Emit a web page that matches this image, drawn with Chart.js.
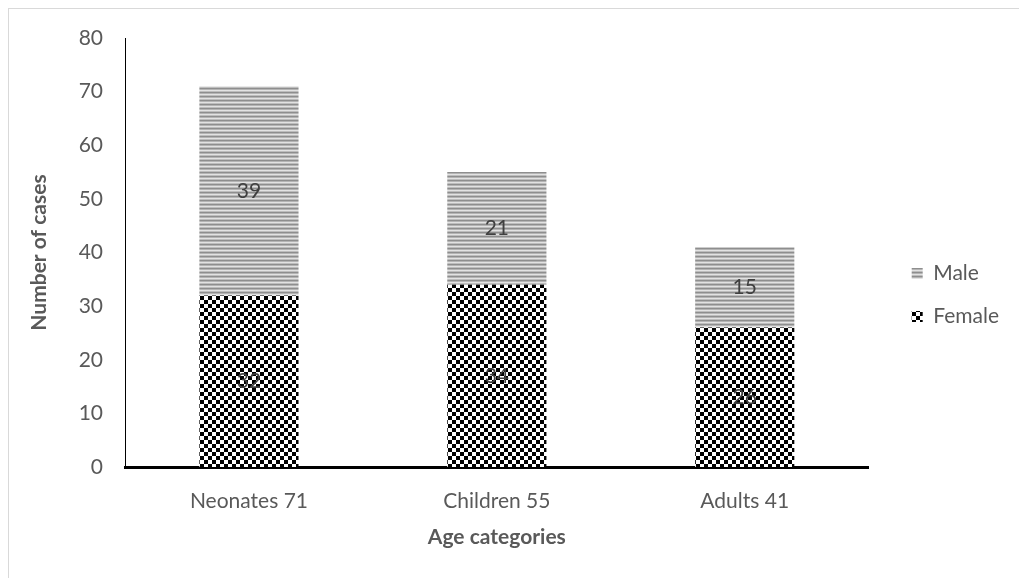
<!DOCTYPE html>
<html>
<head>
<meta charset="utf-8">
<script src="https://cdn.jsdelivr.net/npm/chart.js@4/dist/chart.umd.min.js"></script>
<style>
  html, body { margin: 0; padding: 0; background: #ffffff; }
  #wrap { width: 1019px; height: 578px; position: relative; }
</style>
</head>
<body>
<div id="wrap"><canvas id="chart" width="1019" height="578"></canvas></div>
<script>
// Cases by age category, split by sex
const categories = ['Neonates 71', 'Children 55', 'Adults 41'];
const femaleCases = [32, 34, 26];
const maleCases = [39, 21, 15];
const yTicks = [0, 10, 20, 30, 40, 50, 60, 70, 80];

const FONT = 'Lato, "Open Sans", sans-serif';
const TEXT = '#595959';
const SIZE = 21;

// Black/white checkerboard fill
function checkerPattern() {
  const c = document.createElement('canvas');
  c.width = 8; c.height = 8;
  const g = c.getContext('2d');
  g.fillStyle = '#ffffff'; g.fillRect(0, 0, 8, 8);
  g.fillStyle = '#000000';
  g.fillRect(0, 0, 4, 4);
  g.fillRect(4, 4, 4, 4);
  return g.createPattern(c, 'repeat');
}

// Grey horizontal stripes
function stripePattern() {
  const c = document.createElement('canvas');
  c.width = 4; c.height = 4;
  const g = c.getContext('2d');
  const rows = ['#8e8e8e', '#b4b4b4', '#e2e2e2', '#bdbdbd'];
  rows.forEach((col, i) => { g.fillStyle = col; g.fillRect(0, i, 4, 1); });
  return g.createPattern(c, 'repeat');
}

const femaleFill = checkerPattern();
const maleFill = stripePattern();

// Frame and white background
const framePlugin = {
  id: 'frame',
  beforeDraw(chart) {
    const ctx = chart.ctx;
    ctx.save();
    ctx.fillStyle = '#ffffff';
    ctx.fillRect(0, 0, chart.width, chart.height);
    ctx.strokeStyle = '#d9d9d9';
    ctx.lineWidth = 1;
    ctx.strokeRect(8.5, 8.5, chart.width + 10, chart.height + 10);
    ctx.restore();
  }
};

// Value written at the middle of each bar segment
const valueLabels = {
  id: 'valueLabels',
  afterDatasetsDraw(chart) {
    const ctx = chart.ctx;
    ctx.save();
    ctx.font = SIZE + 'px ' + FONT;
    ctx.fillStyle = '#404040';
    ctx.textAlign = 'center';
    ctx.textBaseline = 'middle';
    chart.data.datasets.forEach((ds, di) => {
      const meta = chart.getDatasetMeta(di);
      meta.data.forEach((bar, i) => {
        const y = (bar.y + bar.base) / 2;
        ctx.fillText(String(ds.data[i]), bar.x, y);
      });
    });
    ctx.restore();
  }
};

new Chart(document.getElementById('chart'), {
  type: 'bar',
  data: {
    labels: categories,
    datasets: [
      { label: 'Female', data: femaleCases, backgroundColor: femaleFill, borderWidth: 0 },
      { label: 'Male', data: maleCases, backgroundColor: maleFill, borderWidth: 0 }
    ]
  },
  options: {
    responsive: false,
    animation: false,
    layout: { padding: { left: 8, right: 10, top: 38, bottom: 26 } },
    datasets: { bar: { categoryPercentage: 1, barPercentage: 0.4 } },
    plugins: {
      tooltip: { enabled: false },
      legend: {
        position: 'right',
        reverse: true,
        labels: {
          boxWidth: 11,
          boxHeight: 11,
          padding: 22,
          color: TEXT,
          font: { family: FONT, size: SIZE }
        }
      }
    },
    scales: {
      x: {
        stacked: true,
        afterFit(scale) { scale.height = 85; },
        grid: { display: false, drawTicks: false },
        border: { display: true, color: '#000000', width: 3 },
        ticks: { color: TEXT, font: { family: FONT, size: SIZE }, padding: 22 },
        title: {
          display: true, text: 'Age categories', color: TEXT,
          font: { family: FONT, size: SIZE, weight: 'bold' }, padding: { top: 2, bottom: 2 }
        }
      },
      y: {
        stacked: true,
        min: 0, max: 80,
        afterFit(scale) { scale.width = 117; },
        afterBuildTicks(scale) { scale.ticks = yTicks.map(v => ({ value: v })); },
        grid: { display: false, drawTicks: false },
        border: { display: true, color: '#000000', width: 1 },
        ticks: { color: TEXT, font: { family: FONT, size: SIZE }, padding: 22 },
        title: {
          display: true, text: 'Number of cases', color: TEXT,
          font: { family: FONT, size: SIZE, weight: 'bold' }, padding: { top: 19, bottom: 19 }
        }
      },
      // empty gutter between plot and legend
      gutter: {
        type: 'linear',
        position: 'right',
        display: true,
        afterFit(scale) { scale.width = 21; },
        grid: { display: false, drawTicks: false },
        border: { display: false },
        ticks: { display: false }
      }
    }
  },
  plugins: [framePlugin, valueLabels]
});
</script>
</body>
</html>
